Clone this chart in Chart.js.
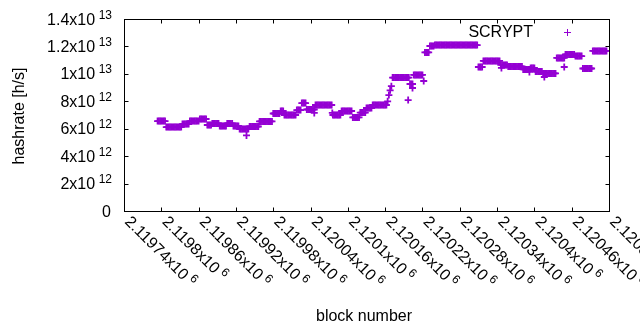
<!DOCTYPE html>
<html>
<head>
<meta charset="utf-8">
<script src="https://cdn.jsdelivr.net/npm/chart.js@4/dist/chart.umd.min.js"></script>
<style>
  html, body { margin: 0; padding: 0; background: #fff; }
  canvas { display: block; }
</style>
</head>
<body>
<canvas id="hashChart" width="640" height="330"></canvas>
<script>
// dense series: first block and spacing of the samples
const firstBlock = 2119794;
const blockStep = 2;

// hashrate, in units of 10^12 h/s, one value per sample
const hashrate = [
  6.56, 6.56, 6.56, 6.56, 6.56, 6.56, 6.56,
  6.12, 6.12, 6.12, 6.12, 6.12, 6.12, 6.12, 6.12, 6.12, 6.12, 6.12, 6.12, 6.12,
  6.34, 6.34, 6.34, 6.34, 6.34, 6.34,
  6.56, 6.56, 6.56, 6.56, 6.56, 6.56, 6.56, 6.56,
  6.71, 6.71, 6.71, 6.71, 6.71, 6.71,
  6.27, 6.27, 6.27, 6.27,
  6.38, 6.38, 6.38, 6.38, 6.38, 6.38,
  6.20, 6.20, 6.20, 6.20, 6.20, 6.20,
  6.38, 6.38, 6.38, 6.38, 6.38,
  6.20, 6.20, 6.20, 6.20, 6.20,
  5.98, 5.98, 5.98, 5.98, 5.98, 5.98, 5.98, 5.98,
  6.16, 6.16, 6.16, 6.16, 6.16, 6.16, 6.16, 6.16,
  6.53, 6.53, 6.53, 6.53, 6.53, 6.53, 6.53, 6.53, 6.53, 6.53, 6.53,
  7.11, 7.11, 7.11, 7.11, 7.11, 7.11,
  7.29, 7.29, 7.29,
  7.00, 7.00, 7.00, 7.00, 7.00, 7.00, 7.00, 7.00, 7.00, 7.00,
  7.36, 7.36, 7.36, 7.36,
  7.87, 7.87, 7.87, 7.87,
  7.40, 7.40, 7.40, 7.40, 7.40, 7.40, 7.40,
  7.73, 7.73, 7.73, 7.73, 7.73, 7.73, 7.73, 7.73, 7.73, 7.73, 7.73, 7.73, 7.73, 7.73,
  7.00, 7.00, 7.00, 7.00, 7.00, 7.00, 7.00,
  7.29, 7.29, 7.29, 7.29, 7.29, 7.29, 7.29, 7.29, 7.29,
  6.82, 6.82, 6.82, 6.82, 6.82, 6.82,
  7.18, 7.18, 7.18, 7.18, 7.18,
  7.51, 7.51, 7.51, 7.51, 7.51,
  7.73, 7.73, 7.73, 7.73, 7.73, 7.73, 7.73, 7.73, 7.73, 7.73, 7.73, 7.73,
  8.00, 8.45, 8.80, 9.10,
  9.73, 9.73, 9.73, 9.73, 9.73, 9.73, 9.73, 9.73, 9.73, 9.73, 9.73, 9.73, 9.73, 9.73,
  9.26, 9.26, 9.26,
  9.92, 9.92, 9.92, 9.92, 9.92, 9.92, 9.92, 9.92,
  9.48, 11.56,
  11.56, 11.56, 11.56,
  12.03, 12.03, 12.03, 12.03,
  12.10, 12.10, 12.10, 12.10, 12.10, 12.10, 12.10, 12.10, 12.10, 12.10,
  12.10, 12.10, 12.10, 12.10, 12.10, 12.10, 12.10, 12.10, 12.10, 12.10,
  12.10, 12.10, 12.10, 12.10, 12.10, 12.10, 12.10, 12.10, 12.10, 12.10,
  12.10, 12.10, 12.10, 12.10, 12.10,
  10.50, 10.50, 10.50, 10.50,
  10.94, 10.94, 10.94, 10.94, 10.94, 10.94, 10.94, 10.94, 10.94, 10.94, 10.94, 10.94, 10.94, 10.94,
  10.65, 10.65, 10.65, 10.65, 10.65, 10.65,
  10.54, 10.54, 10.54, 10.54, 10.54, 10.54, 10.54, 10.54, 10.54, 10.54, 10.54, 10.54,
  10.32, 10.32, 10.32, 10.32, 10.32, 10.32,
  10.43, 10.43, 10.43, 10.43,
  10.17, 10.17, 10.17, 10.17, 10.17, 10.17,
  10.03, 10.03, 10.03, 10.03, 10.03, 10.03, 10.03, 10.03, 10.03, 10.03, 10.03,
  11.16, 11.16, 11.16, 11.16, 11.16, 11.16, 11.16,
  11.41, 11.41, 11.41, 11.41, 11.41, 11.41, 11.41, 11.41,
  11.30, 11.30, 11.30, 11.30, 11.30, 11.30,
  10.39, 10.39, 10.39, 10.39, 10.39, 10.39, 10.39, 10.39,
  11.67, 11.67, 11.67, 11.67, 11.67, 11.67, 11.67, 11.67, 11.67, 11.67, 11.67, 11.67
];

// stray points lying off the runs
const strayBlocks = [2119937, 2120046, 2120075, 2120197, 2120204, 2120347, 2120392, 2120416, 2120448];
const strayHashrate = [5.51, 7.15, 7.15, 8.09, 8.97, 10.43, 10.14, 9.77, 10.50];

// axes
const xRange = [2119740, 2120520];
const xTickStep = 60;
const yRange = [0, 1.4e13];
const yTickStep = 2e12;

const seriesLabel = "SCRYPT";
const xTitle = "block number";
const yTitle = "hashrate [h/s]";

const FONT = "'Liberation Sans', Arial, sans-serif";
const PURPLE = "#9400d3";

const points = hashrate.map((v, i) => ({ x: firstBlock + i * blockStep, y: v * 1e12 }));
strayBlocks.forEach((b, i) => points.push({ x: b, y: strayHashrate[i] * 1e12 }));

function xLabel(v) {
  return [String(parseFloat((v / 1e6).toFixed(5))) + "x10", "6"];
}

function yLabel(v) {
  if (v === 0) return ["0", null];
  const e = Math.floor(Math.log10(v) + 1e-9);
  const m = parseFloat((v / Math.pow(10, e)).toFixed(2));
  return [m + "x10", String(e)];
}

// gnuplot style frame: box, mirrored inward tics, labels with exponents
const gnuplotFrame = {
  id: "gnuplotFrame",
  afterDraw(chart) {
    const { ctx, chartArea: a, scales } = chart;
    const L = Math.round(a.left) + 0.5, R = Math.round(a.right) + 0.5;
    const T = Math.round(a.top) + 0.5, B = Math.round(a.bottom) + 0.5;
    const tic = 4;
    ctx.save();
    ctx.strokeStyle = "#000";
    ctx.lineWidth = 1;
    ctx.strokeRect(L, T, R - L, B - T);

    ctx.beginPath();
    scales.y.ticks.forEach(t => {
      const py = Math.round(scales.y.getPixelForValue(t.value)) + 0.5;
      ctx.moveTo(L, py); ctx.lineTo(L + tic, py);
      ctx.moveTo(R, py); ctx.lineTo(R - tic, py);
    });
    scales.x.ticks.forEach(t => {
      const px = Math.round(scales.x.getPixelForValue(t.value)) + 0.5;
      ctx.moveTo(px, B); ctx.lineTo(px, B - tic);
      ctx.moveTo(px, T); ctx.lineTo(px, T + tic);
    });
    ctx.stroke();

    ctx.fillStyle = "#000";
    ctx.textBaseline = "alphabetic";

    // y tick labels
    scales.y.ticks.forEach(t => {
      const py = scales.y.getPixelForValue(t.value);
      const [main, sup] = yLabel(t.value);
      ctx.textAlign = "right";
      if (!sup) {
        ctx.font = "16px " + FONT;
        ctx.fillText(main, 111, py + 5.5);
        return;
      }
      ctx.font = "12px " + FONT;
      const supW = ctx.measureText(sup).width;
      ctx.fillText(sup, 112, py - 0.5);
      ctx.font = "16px " + FONT;
      ctx.fillText(main, 112 - supW - 3.5, py + 5.5);
    });

    // x tick labels, rotated down to the right
    scales.x.ticks.forEach(t => {
      const px = scales.x.getPixelForValue(t.value);
      const [main, sup] = xLabel(t.value);
      ctx.save();
      ctx.translate(px + 4, B + 7);
      ctx.rotate(Math.PI / 4);
      ctx.textAlign = "left";
      ctx.font = "16px " + FONT;
      ctx.fillText(main, 0, 5.5);
      const w = ctx.measureText(main).width;
      ctx.font = "12px " + FONT;
      ctx.fillText(sup, w + 3.5, -0.5);
      ctx.restore();
    });

    // axis titles
    ctx.font = "16px " + FONT;
    ctx.textAlign = "center";
    ctx.fillText(xTitle, 364, 321);
    ctx.save();
    ctx.translate(24, 116);
    ctx.rotate(-Math.PI / 2);
    ctx.fillText(yTitle, 0, 0);
    ctx.restore();

    // key, top right
    ctx.textAlign = "right";
    ctx.fillText(seriesLabel, 533, 37);
    const ds = chart.data.datasets[0];
    ctx.strokeStyle = ds.borderColor;
    ctx.lineWidth = 1;
    Chart.helpers.drawPoint(ctx, {
      pointStyle: ds.pointStyle, radius: ds.pointRadius, rotation: 0, borderWidth: 1
    }, 567.5, 32.5);
    ctx.restore();
  }
};

new Chart(document.getElementById("hashChart"), {
  type: "scatter",
  data: {
    datasets: [{
      label: seriesLabel,
      data: points,
      pointStyle: "cross",
      pointRadius: 3.5,
      borderColor: PURPLE,
      backgroundColor: PURPLE,
      borderWidth: 1.8,
      showLine: false
    }]
  },
  options: {
    responsive: false,
    animation: false,
    devicePixelRatio: 1,
    layout: { padding: { left: 0, right: 31, top: 19, bottom: 0 } },
    plugins: { legend: { display: false }, tooltip: { enabled: false } },
    scales: {
      x: {
        type: "linear",
        min: xRange[0],
        max: xRange[1],
        ticks: { display: false, stepSize: xTickStep },
        grid: { display: false },
        border: { display: false },
        afterFit: (s) => { s.height = 119; }
      },
      y: {
        min: yRange[0],
        max: yRange[1],
        ticks: { display: false, stepSize: yTickStep },
        grid: { display: false },
        border: { display: false },
        afterFit: (s) => { s.width = 124; }
      }
    }
  },
  plugins: [gnuplotFrame]
});
</script>
</body>
</html>
